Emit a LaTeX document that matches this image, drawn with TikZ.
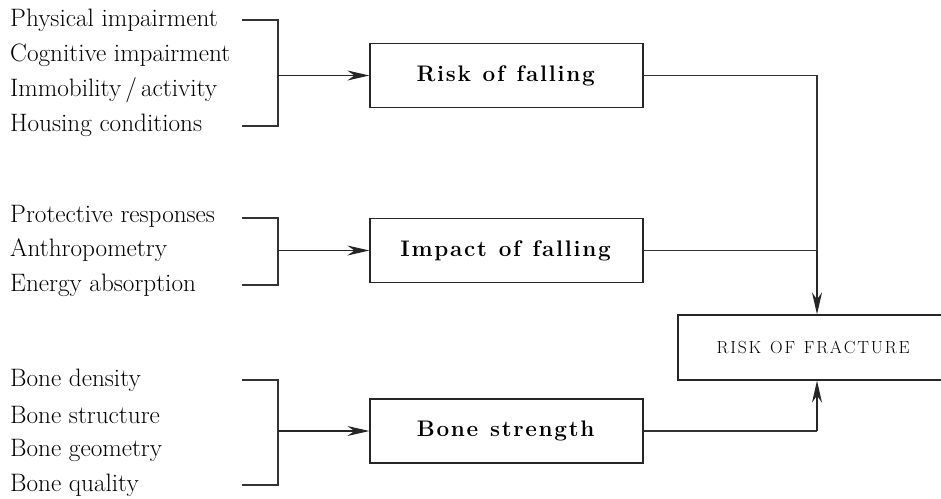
\documentclass[tikz,border=0pt]{standalone}
\usepackage{fontspec}
\usetikzlibrary{arrows.meta}
\newlength{\lspgap}
\def\lsp#1{\lspA#1\relax}
\def\lspA#1{\ifx#1\relax\else#1\kern\lspgap\expandafter\lspA\fi}
\begin{document}
\begin{tikzpicture}[x=1pt,y=-1pt,
  lbl/.style={anchor=west,inner sep=0pt,font=\fontsize{25.2}{28}\selectfont},
  mainbox/.style={draw=black!85,line width=1.3pt,minimum width=273pt,minimum height=64pt,inner sep=0pt,
     font=\fontsize{22.5}{26}\selectfont\bfseries\setlength{\lspgap}{1.7pt}},
  fracbox/.style={draw=black!85,line width=1.3pt,minimum width=272pt,minimum height=65pt,inner sep=0pt,
     font=\fontsize{17.5}{20}\selectfont\setlength{\lspgap}{1.8pt}},
  brk/.style={draw=black!80,line width=1.1pt},
  arr/.style={draw=black!85,line width=1.1pt,-{Stealth[length=22pt,width=10pt]}}]
\useasboundingbox (0,0) rectangle (941,498);
\clip (0,0) rectangle (941,498);
% left labels
\node[lbl] (p1) at (10,20) {Physical impairment};
\node[lbl] (p2) at (10,55) {Cognitive impairment};
\node[lbl] (p3) at (10,90) {Immobility\,/\,activity};
\node[lbl] (p4) at (10,125) {Housing conditions};
\node[lbl] (q1) at (10,216) {Protective responses};
\node[lbl] (q2) at (10,250) {Anthropometry};
\node[lbl] (q3) at (10,285) {Energy absorption};
\node[lbl] (b1) at (10,380) {Bone density};
\node[lbl] (b2) at (10,415) {Bone structure};
\node[lbl] (b3) at (10,450) {Bone geometry};
\node[lbl] (b4) at (10,485) {Bone quality};
% boxes
\node[mainbox] (rf) at (506.5,75.5) {\lsp{Risk~of~falling}};
\node[mainbox] (if) at (506.5,250.5) {\lsp{Impact~of~falling}};
\node[mainbox] (bs) at (506.5,431) {\lsp{Bone~strength}};
\node[fracbox] (fr) at (814,347.5) {\lsp{RISK~OF~FRACTURE}};
% brackets
\coordinate (a1) at (242,20); \coordinate (a2) at (278,20);
\coordinate (a3) at (278,126); \coordinate (a4) at (242,126);
\coordinate (am) at (278,75.5);
\draw[brk] (a1) -- (a2) -- (a3) -- (a4);
\draw[arr] (am) -- (rf.west);
\coordinate (c1) at (242,218); \coordinate (c2) at (278,218);
\coordinate (c3) at (278,285); \coordinate (c4) at (242,285);
\coordinate (cm) at (278,250.5);
\draw[brk] (c1) -- (c2) -- (c3) -- (c4);
\draw[arr] (cm) -- (if.west);
\coordinate (d1) at (242,380); \coordinate (d2) at (278,380);
\coordinate (d3) at (278,485); \coordinate (d4) at (242,485);
\coordinate (dm) at (278,431);
\draw[brk] (d1) -- (d2) -- (d3) -- (d4);
\draw[arr] (dm) -- (bs.west);
% to fracture
\coordinate (j1) at (817,75.5);
\coordinate (j2) at (817,250.5);
\coordinate (j3) at (817,431);
\draw[brk] (rf.east) -- (j1) -- (j2);
\draw[brk] (if.east) -- (j2);
\draw[arr] (j2) -- (j2 |- fr.north);
\draw[brk] (bs.east) -- (j3);
\draw[arr] (j3) -- (j3 |- fr.south);
\end{tikzpicture}
\end{document}
